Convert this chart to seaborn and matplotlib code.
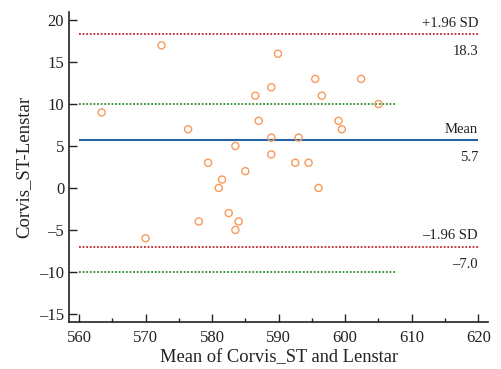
import pandas as pd
import seaborn as sns
import matplotlib.pyplot as plt
from matplotlib.ticker import MultipleLocator

# Bland-Altman: mean of the two devices vs difference
mean_vals = [563.4, 572.4, 576.4, 579.4, 581.0, 581.5, 578.0, 570.0, 582.5, 583.5,
             584.0, 583.5, 585.0, 586.5, 587.0, 588.9, 588.9, 588.9, 589.9, 592.5,
             593.0, 594.5, 595.5, 596.5, 596.0, 599.0, 599.5, 602.4, 605.0]
diff_vals = [9, 17, 7, 3, 0, 1, -4, -6, -3, 5,
             -4, -5, 2, 11, 8, 12, 6, 4, 16, 3,
             6, 3, 13, 11, 0, 8, 7, 13, 10]

bias = 5.7
upper_loa = 18.3
lower_loa = -7.0
ref_lines = [10, -10]

df = pd.DataFrame({'mean': mean_vals, 'diff': diff_vals})

sns.set_style('ticks')
plt.rcParams['font.family'] = ['Liberation Serif', 'DejaVu Serif']
plt.rcParams['font.size'] = 11

fig = plt.figure(figsize=(5.02, 3.69), dpi=100)
ax = fig.add_axes([0.1375, 0.127, 0.835, 0.841])

orange = '#f79a5a'
red = '#c0282d'
green = '#2e8b2e'
blue = '#2a62a8'

ax.hlines(upper_loa, 560, 620, colors=red, linestyles=(0, (1, 1)), linewidth=1.3)
ax.hlines(lower_loa, 560, 620, colors=red, linestyles=(0, (1, 1)), linewidth=1.3)
ax.hlines(ref_lines, 560, 607.5, colors=green, linestyles=(0, (1, 1)), linewidth=1.3)
ax.hlines(bias, 560, 620, colors=blue, linestyles='-', linewidth=1.5)

sns.scatterplot(data=df, x='mean', y='diff', ax=ax, marker='o', s=26,
                facecolor='none', edgecolor=orange, linewidth=1.0, zorder=3)

txt = dict(ha='right', fontsize=10.5, color='#222222')
ax.text(620, upper_loa + 0.5, '+1.96 SD', va='bottom', **txt)
ax.text(620, upper_loa - 1.3, f'{upper_loa:.1f}', va='top', **txt)
ax.text(620, bias + 0.5, 'Mean', va='bottom', **txt)
ax.text(620, bias - 1.3, f'{bias:.1f}', va='top', **txt)
ax.text(620, lower_loa + 0.5, '\u20131.96 SD', va='bottom', **txt)
ax.text(620, lower_loa - 1.3, f'\u2013{abs(lower_loa):.1f}', va='top', **txt)

ax.set_xlim(558.5, 621.5)
ax.set_ylim(-16, 21)
ax.xaxis.set_major_locator(MultipleLocator(10))
ax.xaxis.set_minor_locator(MultipleLocator(5))
ax.tick_params(axis='both', which='major', direction='in', length=6, width=1,
               labelsize=12, colors='#222222')
ax.tick_params(axis='x', which='major', pad=6)
ax.tick_params(axis='x', which='minor', direction='in', length=3, width=1)
ax.set_yticks(range(-15, 21, 5))
ax.set_yticklabels([str(v) if v >= 0 else '\u2013' + str(-v) for v in range(-15, 21, 5)])

for s in ['top', 'right']:
    ax.spines[s].set_visible(False)
for s in ['left', 'bottom']:
    ax.spines[s].set_linewidth(1.2)
    ax.spines[s].set_color('#222222')

ax.set_xlabel('Mean of Corvis_ST and Lenstar', fontsize=13.3, color='#222222', labelpad=2)
ax.set_ylabel('Corvis_ST-Lenstar', fontsize=13.5, color='#222222', labelpad=5)

plt.savefig('out.png', dpi=100)
plt.close()
